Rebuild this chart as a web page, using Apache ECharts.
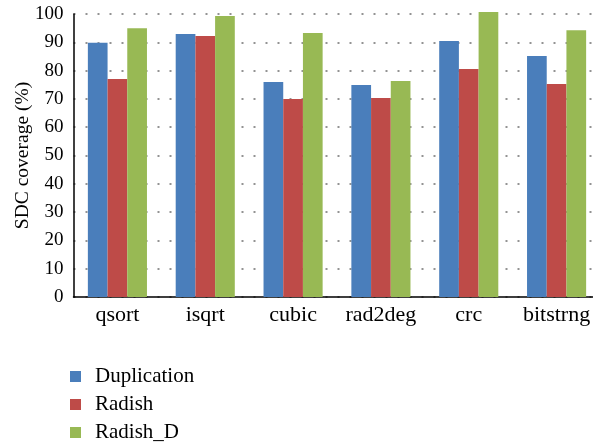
<!DOCTYPE html>
<html><head><meta charset="utf-8">
<script src="https://cdn.jsdelivr.net/npm/echarts@6/dist/echarts.min.js"></script>
<style>html,body{margin:0;padding:0;background:#fff}#c{width:593px;height:445px}</style>
</head><body><div id="c"></div>
<script>
var categories = ['qsort', 'isqrt', 'cubic', 'rad2deg', 'crc', 'bitstrng'];
var duplication = [89.8, 92.9, 76.0, 74.9, 90.5, 85.2];
var radish = [77.0, 92.2, 70.0, 70.3, 80.6, 75.3];
var radishD = [95.0, 99.3, 93.3, 76.3, 100.7, 94.3];
var seriesNames = ['Duplication', 'Radish', 'Radish_D'];
var colors = ['#4a7ebb', '#be4b48', '#98b954'];
var font = 'Liberation Serif';

var chart = echarts.init(document.getElementById('c'));
var dataSets = [duplication, radish, radishD];
chart.setOption({
  animation: false,
  textStyle: {fontFamily: font, color: '#000'},
  grid: {left: 73.5, top: 14, bottom: 148, right: -7.5, containLabel: false, outerBoundsMode: 'none'},
  legend: {
    orient: 'vertical', left: 70, top: 366, height: 79, padding: 0,
    itemWidth: 11, itemHeight: 11, itemGap: 7,
    icon: 'rect',
    data: seriesNames,
    textStyle: {fontFamily: font, fontSize: 21, lineHeight: 20, color: '#000', padding: [0, 0, 0, 9]}
  },
  xAxis: {
    type: 'category', data: categories,
    axisLine: {lineStyle: {color: '#000', width: 1.5}},
    axisTick: {show: false},
    axisLabel: {fontFamily: font, fontSize: 22, color: '#000', margin: 7, interval: 0, hideOverlap: false}
  },
  yAxis: {
    type: 'value', min: 0, max: 100, interval: 10,
    name: 'SDC coverage (%)', nameLocation: 'middle', nameGap: 41, nameMoveOverlap: false,
    nameTextStyle: {fontFamily: font, fontSize: 19.5, color: '#000'},
    axisLine: {show: true, lineStyle: {color: '#000', width: 1.5}},
    axisTick: {show: false},
    axisLabel: {fontFamily: font, fontSize: 19, color: '#000', margin: 10},
    splitLine: {show: true, lineStyle: {color: '#707070', width: 1.5, type: [2, 10]}}
  },
  series: dataSets.map(function (d, i) {
    return {
      name: seriesNames[i], type: 'bar', data: d,
      barWidth: 19.7, barGap: '0%', clip: false,
      itemStyle: {color: colors[i]}
    };
  })
});
</script></body></html>
